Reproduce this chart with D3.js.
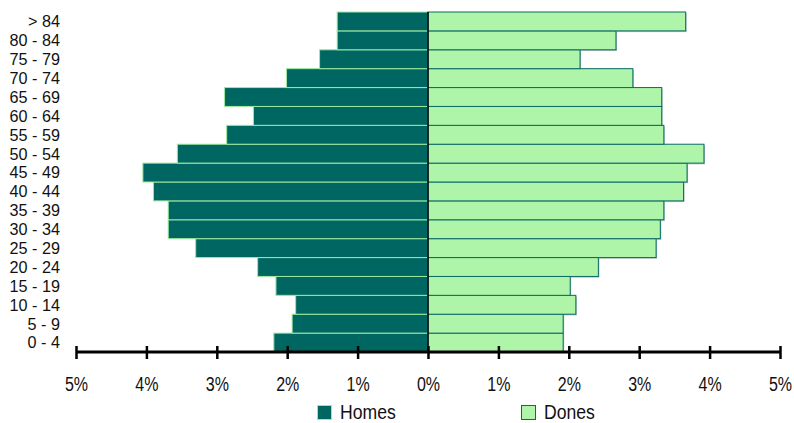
<!DOCTYPE html>
<html><head><meta charset="utf-8">
<script src="https://cdn.jsdelivr.net/npm/d3@7"></script>
<style>
body{margin:0;background:#fff;}
svg{display:block;}
text{font-family:"Liberation Sans",Arial,sans-serif;fill:#111;}
</style></head>
<body><svg id="c" width="794" height="423"></svg>
<script>
const ageGroups = ["0 - 4","5 - 9","10 - 14","15 - 19","20 - 24","25 - 29","30 - 34","35 - 39","40 - 44","45 - 49","50 - 54","55 - 59","60 - 64","65 - 69","70 - 74","75 - 79","80 - 84","> 84"];
const homes = [2.19,1.93,1.88,2.16,2.42,3.30,3.69,3.69,3.90,4.05,3.56,2.86,2.48,2.89,2.01,1.54,1.29,1.29];
const dones = [1.92,1.92,2.10,2.02,2.42,3.24,3.30,3.35,3.63,3.68,3.92,3.35,3.32,3.32,2.91,2.16,2.67,3.66];
const tickVals = [-5,-4,-3,-2,-1,0,1,2,3,4,5];
const seriesNames = ["Homes","Dones"];

const svg = d3.select("#c");
const x = d3.scaleLinear().domain([-5,5]).range([76,780]);
const y = d3.scaleBand().domain(ageGroups.slice().reverse()).range([12,352]).padding(0);
const cHomes = "#006661", cDones = "#aef5aa";

// shadows for Dones
svg.append("g").selectAll("rect").data(ageGroups).join("rect")
  .attr("x", x(0)+1).attr("y", d=>y(d)+1.2)
  .attr("width", (d,i)=>x(dones[i])-x(0)).attr("height", y.bandwidth())
  .attr("fill","#7a9a96").attr("opacity",0.6);

svg.append("g").selectAll("rect").data(ageGroups).join("rect")
  .attr("x", (d,i)=>x(-homes[i])).attr("y", d=>y(d))
  .attr("width", (d,i)=>x(0)-x(-homes[i])).attr("height", y.bandwidth())
  .attr("fill", cHomes).attr("stroke","#9fe8a0").attr("stroke-width",1);

svg.append("g").selectAll("rect").data(ageGroups).join("rect")
  .attr("x", x(0)).attr("y", d=>y(d))
  .attr("width", (d,i)=>x(dones[i])-x(0)).attr("height", y.bandwidth())
  .attr("fill", cDones).attr("stroke","#0a6a64").attr("stroke-width",1);

// center line
svg.append("line").attr("x1",x(0)).attr("x2",x(0)).attr("y1",12).attr("y2",352)
  .attr("stroke","#000").attr("stroke-width",1.5);

// y labels
svg.append("g").selectAll("text").data(ageGroups).join("text")
  .attr("transform",d=>`translate(60,${y(d)+y.bandwidth()/2})`)
  .attr("dy","0.36em")
  .attr("text-anchor","end").style("font-size","16.2px").text(d=>d);

// x axis
const ax = svg.append("g").attr("transform","translate(0,352)")
  .call(d3.axisBottom(x).tickValues(tickVals).tickSize(13).tickPadding(0)
    .tickFormat(d=>Math.abs(d)+"%"));
ax.select(".domain").attr("stroke","#000").attr("stroke-width",3).attr("d",`M${x(-5)},0H${x(5)}`);
ax.selectAll(".tick line").attr("y1",-6).attr("y2",7).attr("stroke","#000").attr("stroke-width",2.5);
ax.selectAll(".tick text").attr("y",0).attr("dy",0)
  .attr("transform","translate(0,38.5) scale(0.8,1)")
  .style("font-size","20px").attr("fill","#111")
  .style("font-family",'"Liberation Sans",Arial,sans-serif');

// legend
const leg = [{n:seriesNames[0],x:317,c:cHomes,s:"#9fe8a0"},{n:seriesNames[1],x:521,c:cDones,s:"#0a6a64"}];
const lg = svg.append("g");
lg.selectAll("rect").data(leg).join("rect").attr("x",d=>d.x+0.5).attr("y",405.5).attr("width",14).attr("height",14)
  .attr("fill",d=>d.c).attr("stroke",d=>d.s);
lg.selectAll("text").data(leg).join("text")
  .attr("transform",d=>`translate(${d.x+23},419) scale(0.88,1)`)
  .style("font-size","20px").text(d=>d.n);
</script></body></html>
